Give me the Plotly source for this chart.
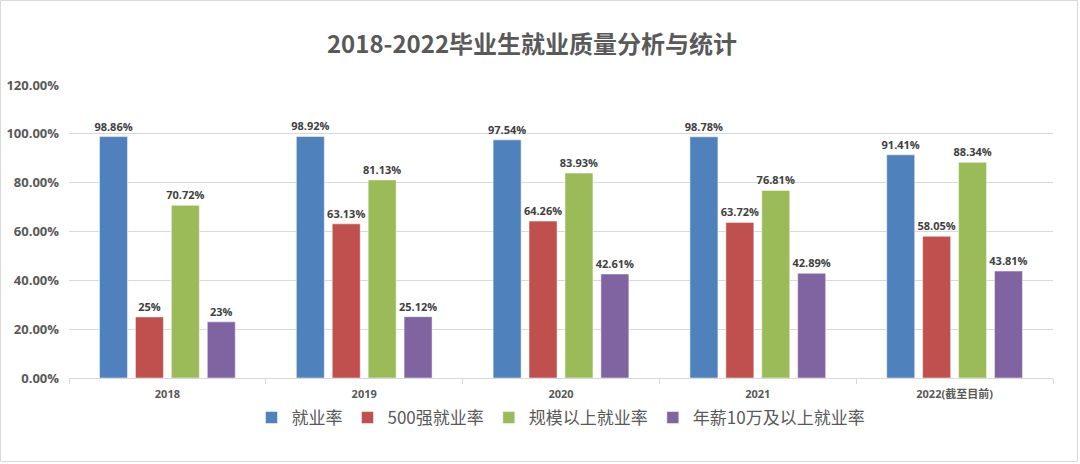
import plotly.graph_objects as go

categories = ["2018", "2019", "2020", "2021", "2022(截至目前)"]
series_names = ["就业率", "500强就业率", "规模以上就业率", "年薪10万及以上就业率"]
employment = [98.86, 98.92, 97.54, 98.78, 91.41]
top500 = [25, 63.13, 64.26, 63.72, 58.05]
large_scale = [70.72, 81.13, 83.93, 76.81, 88.34]
salary_100k = [23, 25.12, 42.61, 42.89, 43.81]
label_employment = ["98.86%", "98.92%", "97.54%", "98.78%", "91.41%"]
label_top500 = ["25%", "63.13%", "64.26%", "63.72%", "58.05%"]
label_large = ["70.72%", "81.13%", "83.93%", "76.81%", "88.34%"]
label_salary = ["23%", "25.12%", "42.61%", "42.89%", "43.81%"]
y_ticks = [0, 20, 40, 60, 80, 100, 120]
y_tick_labels = ["0.00%", "20.00%", "40.00%", "60.00%", "80.00%", "100.00%", "120.00%"]
colors = ["#4F81BD", "#C0504D", "#9BBB59", "#8064A2"]

values = [employment, top500, large_scale, salary_100k]
labels = [label_employment, label_top500, label_large, label_salary]

W, H = 1080, 464
ml, mr, mt, mb = 69, 27, 85, 86

fig = go.Figure()
for name, vals, labs, col in zip(series_names, values, labels, colors):
    fig.add_trace(go.Bar(
        x=categories, y=[v / 100 for v in vals], name=name,
        marker=dict(color=col, line=dict(color="rgba(255,255,255,0.5)", width=1)),
        text=labs, textposition="outside", cliponaxis=False,
        constraintext="none",
        textfont=dict(family="Open Sans, Liberation Sans, sans-serif", size=11, color="#404040", weight="bold"),
    ))

fig.update_layout(
    width=W, height=H,
    margin=dict(l=ml, r=mr, t=mt, b=mb, autoexpand=False),
    paper_bgcolor="white", plot_bgcolor="white",
    barmode="group", bargap=0.27, bargroupgap=0.22,
    title=dict(text="2018-2022毕业生就业质量分析与统计", x=(532 - ml) / (W - ml - mr), xref="paper", xanchor="center",
               y=1 - 45 / H, yanchor="middle",
               font=dict(family="Noto Sans CJK SC, sans-serif", size=24, color="#595959", weight="bold")),
    legend=dict(orientation="h", x=0.5, xanchor="center", y=-(418 - (H - mb)) / (H - mt - mb), yanchor="middle",
                font=dict(family="Noto Sans CJK SC, sans-serif", size=17, color="#595959"),
                itemwidth=30, traceorder="normal"),
    font=dict(family="Open Sans, Liberation Sans, sans-serif", color="#595959"),
)
fig.update_yaxes(range=[0, 1.2], tickvals=[t / 100 for t in y_ticks], ticktext=y_tick_labels,
                 showgrid=True, gridcolor="#D9D9D9", gridwidth=1, zeroline=False,
                 showline=False, ticks="", ticklabelstandoff=9, automargin=False,
                 tickfont=dict(size=13, color="#595959", weight="bold"))
fig.update_xaxes(type="category", showline=True, linecolor="#D9D9D9", linewidth=1,
                 ticks="outside", tickson="boundaries", ticklen=5, tickcolor="#D9D9D9",
                 showgrid=False, ticklabelstandoff=6, automargin=False,
                 tickfont=dict(family="Open Sans, Noto Sans CJK SC, sans-serif", size=11, color="#595959", weight="bold"))

pw = W - ml - mr
ph = H - mt - mb
fig.add_shape(type="rect", xref="paper", yref="paper",
              x0=(0.5 - ml) / pw, x1=(W - 2.5 - ml) / pw,
              y0=-(H - 2.5 - (H - mb)) / ph, y1=1 + (mt - 0.5) / ph,
              line=dict(color="#D9D9D9", width=1), layer="below")

fig.write_html("out.html")
